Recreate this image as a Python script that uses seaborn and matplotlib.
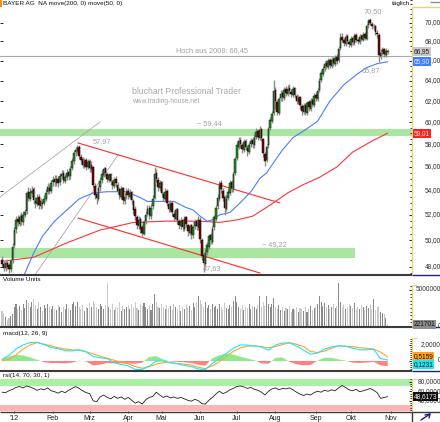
import matplotlib
matplotlib.use("Agg")
import matplotlib.pyplot as plt
import seaborn as sns
import numpy as np
from matplotlib.ticker import FixedLocator, NullFormatter
from matplotlib.lines import Line2D
from matplotlib.patches import Rectangle
from matplotlib.transforms import blended_transform_factory as btf

# ---------------- data ----------------
month_labels = ["'12", "Feb", "Mrz", "Apr", "Mai", "Jun", "Jul", "Aug", "Sep", "Okt", "Nov"]
month_start = [7, 29, 50, 72, 91, 113, 134, 156, 179, 199, 222]

opens = [
    48.5, 48.2, 47.9, 48.3, 48.1, 47.8, 48.5,
    49.6, 50.9, 51.7, 51.3, 51.9, 51.4, 52.0, 52.3, 53.9, 53.3, 53.8, 54.1, 53.1, 52.9, 53.5, 52.7, 53.0, 53.0, 53.3, 53.9, 54.2, 54.0,
    54.7, 55.0, 54.6, 55.0, 54.7, 55.2, 55.5, 54.8, 55.1, 55.6, 55.2, 55.9, 56.5, 57.3, 57.4, 57.8, 56.9, 56.7, 56.1, 56.6, 56.0,
    56.5, 55.8, 56.0, 54.4, 53.7, 53.3, 54.3, 54.9, 55.3, 55.9, 55.4, 54.9, 55.4, 54.7, 54.4, 55.0, 54.5, 54.1, 53.5, 54.2, 53.1, 53.6,
    54.0, 53.5, 53.9, 53.1, 52.5, 51.8, 51.1, 51.7, 51.0, 50.5, 51.5, 52.1, 52.6, 51.9, 52.7, 53.4, 55.5, 54.9, 54.2,
    54.7, 53.7, 53.3, 54.0, 52.9, 52.4, 53.0, 52.1, 51.7, 52.5, 51.5, 51.1, 51.6, 50.9, 51.8, 51.2, 50.6, 51.2, 50.4, 51.1, 51.5, 51.0,
    51.6, 50.0, 48.9, 48.2, 49.1, 49.5, 50.4, 49.9, 51.0, 51.7, 52.7, 53.3, 54.6, 54.0, 53.5, 52.5, 53.4, 53.8, 54.7, 54.1, 55.5,
    56.8, 57.8, 58.4, 57.9, 57.5, 58.3, 57.7, 57.3, 58.0, 58.4, 57.9, 58.7, 59.2, 58.6, 59.4, 58.5, 57.1, 56.6, 57.9, 59.5, 60.1, 60.9,
    63.1, 61.9, 60.9, 62.3, 62.8, 62.3, 63.2, 62.7, 63.3, 62.9, 62.6, 63.3, 62.5, 61.9, 62.4, 61.5, 61.0, 61.6, 60.9, 61.9, 61.3, 62.1, 61.6,
    62.6, 62.2, 63.1, 64.1, 64.7, 65.3, 65.8, 65.4, 66.1, 65.5, 66.2, 65.7, 66.4, 66.1, 67.3, 68.5, 68.1, 67.7, 68.6, 67.9,
    67.6, 68.4, 67.8, 68.7, 68.1, 67.9, 68.6, 68.2, 68.8, 68.3, 69.7, 70.3, 69.9, 69.5, 69.6, 68.9, 68.7, 66.5, 66.9, 67.2, 66.6, 67.0,
]
highs = [
    48.8, 48.4, 48.5, 48.6, 48.3, 48.6, 49.8,
    51.0, 51.9, 52.0, 52.1, 52.2, 52.3, 52.5, 54.0, 54.3, 54.2, 54.4, 54.3, 53.5, 53.7, 53.7, 53.4, 53.3, 53.6, 54.1, 54.6, 54.5, 54.9,
    55.2, 55.3, 55.3, 55.2, 55.5, 55.7, 55.7, 55.4, 55.8, 55.9, 56.1, 56.8, 57.5, 57.8, 57.97, 57.9, 57.1, 56.9, 56.8, 56.8, 56.7,
    56.7, 56.5, 56.1, 54.6, 53.9, 54.4, 55.1, 55.7, 56.0, 56.0, 55.6, 55.5, 55.5, 54.9, 55.1, 55.2, 54.7, 54.3, 54.4, 54.3, 53.8, 54.2,
    54.2, 54.1, 54.0, 53.3, 52.7, 52.0, 51.9, 51.8, 51.2, 51.6, 52.3, 52.8, 52.8, 52.9, 53.6, 56.0, 55.8, 55.1, 54.9,
    54.8, 53.9, 54.2, 54.1, 53.1, 53.2, 53.1, 52.3, 52.6, 52.6, 51.7, 51.8, 51.7, 51.9, 51.9, 51.3, 51.3, 51.3, 51.2, 51.7, 51.7, 51.9,
    51.8, 50.2, 49.1, 49.3, 49.9, 50.5, 50.6, 51.1, 52.0, 52.8, 53.7, 54.8, 54.9, 54.2, 53.6, 53.6, 54.2, 54.9, 54.9, 55.6, 56.9,
    58.3, 58.7, 58.7, 58.1, 58.5, 58.5, 57.9, 58.2, 58.6, 58.7, 58.9, 59.5, 59.4, 59.7, 59.5, 58.6, 57.3, 58.0, 59.6, 60.5, 61.1, 64.1,
    63.4, 62.1, 62.4, 63.1, 63.0, 63.4, 63.5, 63.6, 63.7, 63.2, 63.5, 63.4, 62.7, 62.6, 62.5, 61.7, 61.8, 61.7, 62.0, 62.1, 62.3, 62.3, 62.8,
    62.9, 63.3, 64.3, 65.1, 65.5, 66.0, 66.1, 66.3, 66.3, 66.4, 66.4, 66.6, 66.7, 67.5, 68.9, 68.9, 68.4, 68.8, 68.8, 68.2,
    68.6, 68.6, 68.9, 68.9, 68.4, 68.8, 68.8, 69.0, 69.0, 69.9, 70.4, 70.5, 70.1, 69.9, 69.8, 69.2, 68.9, 67.2, 67.4, 67.3, 67.3, 67.2,
]
lows = [
    48.0, 47.7, 47.7, 47.8, 47.5, 47.6, 48.3,
    49.4, 50.6, 51.1, 51.1, 51.2, 51.2, 51.8, 52.1, 53.1, 53.1, 53.5, 52.9, 52.6, 52.7, 52.5, 52.5, 52.6, 52.8, 53.1, 53.7, 53.7, 53.8,
    54.4, 54.4, 54.4, 54.3, 54.5, 55.0, 54.6, 54.6, 54.9, 54.9, 55.0, 55.7, 56.3, 57.0, 57.1, 56.7, 56.3, 55.9, 55.9, 55.7, 55.8,
    55.6, 55.6, 54.2, 53.3, 52.9, 53.1, 54.0, 54.6, 55.1, 55.2, 54.7, 54.7, 54.5, 54.1, 54.2, 54.3, 53.7, 53.3, 53.3, 52.9, 52.9, 53.3,
    53.3, 53.3, 52.9, 52.1, 51.6, 50.9, 50.9, 50.6, 50.3, 50.4, 51.3, 51.9, 51.7, 51.7, 52.5, 53.3, 54.7, 54.0, 54.0,
    53.5, 53.1, 53.1, 52.7, 52.2, 52.2, 51.9, 51.5, 51.5, 51.3, 50.9, 50.9, 50.7, 50.7, 51.0, 50.3, 50.4, 50.1, 50.2, 50.9, 50.8, 50.8,
    49.8, 48.5, 47.63, 48.0, 48.9, 49.3, 49.7, 49.7, 50.8, 51.5, 52.5, 53.1, 53.8, 53.1, 52.0, 52.3, 53.2, 53.6, 53.9, 53.9, 55.3,
    56.6, 57.6, 57.7, 57.2, 57.3, 57.5, 57.0, 57.1, 57.8, 57.7, 57.7, 58.5, 58.4, 58.4, 58.3, 56.9, 56.1, 56.4, 57.7, 59.3, 59.9, 60.7,
    61.3, 60.7, 60.7, 62.0, 62.0, 62.1, 62.5, 62.5, 62.7, 62.4, 62.4, 62.3, 61.7, 61.7, 61.3, 60.7, 60.8, 60.7, 60.7, 61.1, 61.1, 61.4, 61.4,
    62.0, 62.0, 62.9, 63.9, 64.5, 65.0, 65.2, 65.2, 65.3, 65.3, 65.5, 65.5, 65.7, 65.9, 67.1, 67.9, 67.5, 67.5, 67.7, 67.4,
    67.4, 67.6, 67.6, 67.9, 67.7, 67.7, 68.0, 68.0, 68.1, 68.1, 69.4, 69.7, 69.3, 69.2, 68.7, 68.4, 65.87, 66.2, 66.6, 66.4, 66.4, 66.7,
]
closes = [
    48.2, 47.9, 48.3, 48.0, 47.8, 48.4, 49.5,
    50.8, 51.6, 51.4, 51.8, 51.5, 52.0, 52.2, 53.8, 53.4, 53.9, 54.0, 53.2, 53.0, 53.4, 52.8, 53.1, 52.9, 53.3, 53.8, 54.3, 54.0, 54.6,
    54.9, 54.7, 55.0, 54.6, 55.2, 55.4, 54.9, 55.1, 55.5, 55.2, 55.8, 56.5, 57.2, 57.5, 57.7, 57.0, 56.6, 56.2, 56.5, 56.0, 56.4,
    55.9, 56.2, 54.5, 53.6, 53.4, 54.2, 54.8, 55.4, 55.8, 55.5, 55.0, 55.3, 54.8, 54.5, 54.9, 54.6, 54.0, 53.6, 54.1, 53.2, 53.5, 53.9,
    53.6, 53.8, 53.2, 52.4, 51.9, 51.2, 51.6, 50.9, 50.6, 51.4, 52.0, 52.5, 52.0, 52.6, 53.3, 55.4, 55.0, 54.3, 54.6,
    53.8, 53.4, 53.9, 53.0, 52.5, 52.9, 52.2, 51.8, 52.4, 51.6, 51.2, 51.5, 51.0, 51.7, 51.3, 50.7, 51.1, 50.5, 51.0, 51.4, 51.1, 51.6,
    50.1, 48.8, 48.3, 49.0, 49.6, 50.3, 50.0, 50.9, 51.8, 52.6, 53.4, 54.5, 54.1, 53.4, 52.6, 53.3, 53.9, 54.6, 54.2, 55.4, 56.7,
    57.9, 58.3, 58.0, 57.6, 58.2, 57.8, 57.4, 57.9, 58.3, 58.0, 58.6, 59.1, 58.7, 59.3, 58.6, 57.2, 56.5, 57.8, 59.4, 60.2, 60.8, 63.0,
    62.0, 61.0, 62.2, 62.7, 62.4, 63.1, 62.8, 63.2, 63.0, 62.7, 63.2, 62.6, 62.0, 62.3, 61.6, 61.1, 61.5, 61.0, 61.8, 61.4, 62.0, 61.7, 62.5,
    62.3, 63.0, 64.0, 64.8, 65.2, 65.7, 65.5, 66.0, 65.6, 66.1, 65.8, 66.3, 66.0, 67.2, 68.4, 68.2, 67.8, 68.5, 68.0, 67.7,
    68.3, 67.9, 68.6, 68.2, 68.0, 68.5, 68.3, 68.7, 68.4, 69.6, 70.2, 70.0, 69.6, 69.5, 69.0, 68.8, 66.6, 66.8, 67.1, 66.7, 67.0, 66.95,
]
volume_mio = [
    2.1, 1.8, 1.2, 0.9, 1.1, 1.4, 1.6,
    2.6, 3.1, 2.4, 2.8, 2.2, 3.0, 2.5, 3.6, 3.2, 2.7, 3.4, 3.8, 2.9, 2.4, 3.3, 2.6, 2.1, 2.9, 2.5, 3.1, 2.7, 2.3,
    2.8, 2.4, 2.2, 2.9, 2.6, 2.0, 2.7, 2.3, 3.1, 2.5, 2.2, 3.0, 3.4, 2.8, 3.3, 2.6, 2.4, 2.9, 2.1, 2.7, 2.5,
    3.2, 2.6, 3.5, 3.0, 2.7, 2.4, 3.1, 2.8, 2.3, 2.9, 6.0, 2.6, 2.4, 3.0, 2.2, 2.7, 2.5, 3.3, 2.1, 2.8, 2.4, 2.6,
    2.9, 2.3, 3.1, 2.7, 3.4, 2.5, 2.2, 3.0, 2.8, 3.2, 2.6, 2.4, 2.9, 2.2, 3.0, 4.5, 3.3, 2.7, 2.5,
    3.0, 2.6, 2.3, 2.9, 2.5, 2.8, 2.2, 3.1, 2.6, 2.4, 2.9, 2.1, 2.7, 2.3, 3.0, 2.5, 2.8, 2.2, 3.2, 2.6, 3.3, 4.2,
    3.6, 3.0, 2.7, 3.4, 2.5, 2.9, 2.3, 3.1, 2.6, 2.8, 2.4, 3.0, 2.7, 2.2, 3.2, 2.5, 2.3, 2.9, 2.6, 3.5, 4.2,
    3.3, 2.6, 2.4, 2.9, 2.2, 2.7, 2.5, 3.0, 2.3, 2.8, 2.6, 2.4, 2.9, 4.2, 2.7, 3.4, 2.8, 4.2, 3.1, 2.6, 3.0, 3.9,
    2.7, 2.4, 2.9, 2.2, 2.6, 2.1, 2.5, 2.3, 2.8, 2.0, 2.4, 2.2, 2.7, 1.9, 2.5, 2.3, 2.1, 2.6, 2.0, 2.4, 2.8, 2.2, 2.5,
    2.6, 3.0, 4.2, 3.4, 2.8, 3.2, 2.6, 2.9, 2.4, 2.7, 3.1, 2.5, 2.8, 6.0, 3.3, 2.7, 2.9, 2.4, 2.6, 3.0,
    2.8, 2.5, 3.2, 2.4, 2.7, 2.3, 2.9, 2.6, 2.2, 2.8, 2.5, 3.1, 2.4, 3.8, 2.2, 2.6, 2.8, 2.0, 1.8, 1.6, 1.1, 0.221701,
]

ma50_day = [11, 13, 18, 23, 30, 37, 44, 52, 60, 71, 79, 83, 90, 98, 105, 109, 113, 117, 120, 124,
            130, 136, 142, 147, 151, 155, 160, 166, 172, 180, 187, 195, 203, 208, 214, 220]
ma50_val = [46.9, 47.5, 49.0, 50.3, 51.5, 52.4, 53.3, 53.8, 53.9, 53.9, 53.4, 53.1, 53.1, 53.1, 52.6, 52.4, 51.9, 51.5, 51.6, 52.0,
            52.2, 53.0, 53.9, 55.0, 55.5, 56.4, 57.5, 58.6, 59.2, 60.1, 62.0, 63.6, 64.7, 65.3, 65.7, 65.90]
ma200_day = [0, 18, 37, 56, 75, 94, 113, 124, 134, 143, 153, 163, 172, 181, 191, 200, 210, 220]
ma200_val = [48.4, 48.7, 49.8, 50.8, 51.4, 51.5, 51.5, 51.4, 51.6, 51.9, 52.8, 53.8, 54.5, 55.1, 56.0, 57.3, 58.2, 59.01]

# trend lines (day, price)
gray_line1_day, gray_line1_val = [-1.14, 55.9], [53.46, 60.04]
gray_line2_day, gray_line2_val = [18.8, 66.2], [47.39, 57.05]
red_upper_day, red_upper_val = [43.4, 158.6], [58.12, 52.97]
red_lower_day, red_lower_val = [43.4, 147.2], [51.75, 47.53]
zone_upper = (58.75, 59.35)
zone_lower = (48.67, 49.37)
zone_lower_end_day = 201.4
high_2008 = 66.45

macd_day = list(range(0, 221, 4))
macd_val = [0.2, 0.7, 1.5, 2.0, 2.3, 2.35, 2.05, 1.7, 1.55, 1.3,
            1.25, 1.4, 1.15, 0.55, 0.4, 0.3, -0.2, -0.45, -0.6, -1.05,
            -1.05, -0.65, 0.0, 0.0, -0.2, -0.35, -0.55, -0.7, -1.0, -1.05,
            -0.3, 0.3, 0.95, 1.6, 2.0, 2.0, 1.85, 1.75, 1.35, 2.0,
            2.25, 2.25, 1.9, 1.35, 0.85, 1.0, 1.5, 1.75, 1.9, 1.85,
            1.6, 1.4, 1.4, 1.45, 0.3, 0.1231]
signal_val = [0.0, 0.25, 0.75, 1.5, 2.0, 2.3, 2.1, 1.9, 1.65, 1.5,
              1.4, 1.35, 1.15, 0.9, 0.6, 0.35, 0.1, -0.15, -0.35, -0.7,
              -0.9, -0.7, -0.4, -0.2, -0.2, -0.3, -0.4, -0.5, -0.8, -0.95,
              -0.6, -0.1, 0.6, 1.2, 1.65, 1.85, 1.9, 1.8, 1.65, 1.8,
              2.05, 2.3, 2.1, 1.8, 1.2, 1.05, 1.25, 1.6, 1.9, 1.85,
              1.8, 1.65, 1.6, 1.5, 1.1, 0.5159]
hist_val = [0.3, 0.55, 0.75, 0.7, 0.45, 0.15, -0.15, -0.25, -0.25, -0.3,
            -0.2, 0.05, -0.05, -0.55, -0.45, -0.25, -0.3, -0.3, -0.3, -0.35,
            -0.2, 0.5, 0.6, 0.2, -0.05, -0.1, -0.15, -0.25, -0.45, -0.6,
            0.35, 0.7, 0.95, 0.8, 0.55, 0.3, 0.1, -0.3, -0.35, 0.4,
            0.45, -0.1, -0.4, -0.55, -0.5, 0.05, 0.4, 0.4, 0.2, 0.05,
            -0.2, -0.25, -0.2, -0.1, -0.55, -0.65]

rsi_day = list(range(0, 221, 2))
rsi_val = [58, 57, 61, 64, 68, 70, 67, 71, 69, 66,
           62, 65, 63, 67, 61, 59, 56, 60, 57, 62,
           66, 70, 66, 61, 57, 55, 40, 38, 48, 52,
           47, 44, 49, 45, 48, 43, 47, 41, 35, 38,
           33, 42, 47, 49, 58, 52, 47, 50, 46, 48,
           45, 47, 44, 41, 39, 43, 40, 34, 33, 41,
           47, 54, 60, 55, 58, 63, 66, 70, 71, 69,
           66, 68, 64, 62, 58, 52, 60, 65, 67, 63,
           66, 65, 67, 63, 58, 54, 51, 54, 52, 57,
           60, 58, 62, 60, 63, 61, 67, 72, 68, 63,
           61, 64, 59, 61, 63, 66, 62, 57, 45, 47,
           48.6173]

price_ticks = [48, 50, 52, 54, 56, 58, 60, 62, 64, 66, 68, 70]

# ---------------- style ----------------
sns.set_theme(style="white")
plt.rcParams['font.family'] = ['Liberation Sans', 'DejaVu Sans']
plt.rcParams['axes.grid'] = False

W, H = 440, 422
fig = plt.figure(figsize=(W / 100, H / 100), dpi=100)
fig.patch.set_facecolor('white')


def frac(l, t, r, b):
    return [l / W, 1 - b / H, (r - l) / W, (b - t) / H]


ax_p = fig.add_axes(frac(0, 0, 412, 274))
ax_v = fig.add_axes(frac(0, 276, 412, 326))
ax_m = fig.add_axes(frac(0, 328, 412, 370))
ax_r = fig.add_axes(frac(0, 372, 412, 411))
XL = (-2 / 1.753, 410 / 1.753)

SPINE = '#e8d27c'
TICKC = '#303030'
for ax in (ax_p, ax_v, ax_m, ax_r):
    ax.set_facecolor('white')
    ax.set_xlim(*XL)
    for s in ('top', 'left', 'bottom'):
        ax.spines[s].set_visible(False)
    ax.spines['right'].set_color(SPINE)
    ax.spines['right'].set_linewidth(1.0)
    ax.yaxis.tick_right()
    ax.tick_params(axis='y', which='both', direction='in', color='black', width=0.6,
                   labelright=False, labelleft=False, left=False, right=True)
    ax.tick_params(axis='y', which='major', length=2.5)
    ax.tick_params(axis='y', which='minor', length=1.5)
    ax.set_xlabel('')
    ax.set_ylabel('')

days = np.arange(len(closes))
o = np.array(opens); c = np.array(closes); hi = np.array(highs); lo = np.array(lows)
up = c >= o

# ---------------- price panel ----------------
ax_p.set_yscale('log')
ax_p.set_ylim(47.46, 72.5)
GREENZ = '#a9e6a1'
ax_p.axhspan(*zone_upper, color=GREENZ, lw=0, zorder=0)
ax_p.fill_between([XL[0], zone_lower_end_day], zone_lower[0], zone_lower[1], color=GREENZ, lw=0, zorder=0)
ax_p.axhline(high_2008, color='#a8a8a8', lw=0.8, zorder=1)

ax_p.plot(gray_line1_day, gray_line1_val, color='#a9a9a9', lw=0.6, zorder=1)
ax_p.plot(gray_line2_day, gray_line2_val, color='#a9a9a9', lw=0.6, zorder=1)
ax_p.plot(red_upper_day, red_upper_val, color='#ff2a2a', lw=0.8, zorder=2)
ax_p.plot(red_lower_day, red_lower_val, color='#ff2a2a', lw=0.8, zorder=2)

sns.lineplot(x=ma200_day, y=ma200_val, ax=ax_p, color='#ff3434', lw=0.8, zorder=2, errorbar=None)
sns.lineplot(x=ma50_day, y=ma50_val, ax=ax_p, color='#4d7cff', lw=0.8, zorder=2, errorbar=None)

ax_p.vlines(days, lo, hi, color='#8e8e8e', lw=1.0, zorder=3)
body_lo = np.minimum(o, c)
body_h = np.maximum(np.abs(c - o), 0.06)
ax_p.bar(days[up], body_h[up], bottom=body_lo[up], width=0.85, color='#1e9a1e',
         edgecolor='#101010', linewidth=0.35, zorder=4)
ax_p.bar(days[~up], body_h[~up], bottom=body_lo[~up], width=0.85, color='#7a0000',
         edgecolor='#101010', linewidth=0.35, zorder=4)

ax_p.yaxis.set_major_locator(FixedLocator(price_ticks))
ax_p.yaxis.set_major_formatter(NullFormatter())
ax_p.yaxis.set_minor_locator(FixedLocator(np.arange(47.5, 72.6, 0.5)))
ax_p.yaxis.set_minor_formatter(NullFormatter())
ax_p.tick_params(axis='y', which='major', left=True)
ax_p.spines['right'].set_bounds(47.46, 71.75)
ax_p.set_xticks([])
ax_p.set_ylabel('')

ANN = '#a2a2a2'
ax_p.text(52, 58.24, '57,97', color=ANN, fontsize=5.3, ha='left', va='center')
ax_p.text(111.2, 59.85, '~ 59,44', color=ANN, fontsize=5.3, ha='left', va='center')
ax_p.text(140.3, 67.04, 'Hoch aus 2008: 66,45', color=ANN, fontsize=5.3, ha='right', va='center')
ax_p.text(74.2, 62.92, 'bluchart Professional Trader', color='#a8a8a8', fontsize=6.2, ha='left', va='center')
ax_p.text(74.2, 61.95, 'www.trading-house.net', color='#a8a8a8', fontsize=4.8, ha='left', va='center')
ax_p.text(148.3, 49.64, '~ 49,22', color=ANN, fontsize=5.3, ha='left', va='center')
ax_p.text(114.7, 47.83, '47,63', color=ANN, fontsize=5.3, ha='left', va='center')
ax_p.text(206.5, 71.2, '70,50', color=ANN, fontsize=5.3, ha='left', va='center')
ax_p.text(205.4, 65.05, '65,87', color=ANN, fontsize=5.3, ha='left', va='center')

# ---------------- volume panel ----------------
vol = np.array(volume_mio)
ax_v.bar(days, vol, width=0.6, color=np.where(up, '#8a8a8a', '#c9c9c9'), lw=0, zorder=2)
ax_v.set_ylim(0, 6.94)
ax_v.yaxis.set_major_locator(FixedLocator([0, 5]))
ax_v.yaxis.set_major_formatter(NullFormatter())
ax_v.yaxis.set_minor_locator(FixedLocator(np.arange(0, 5.8, 0.5)))
ax_v.yaxis.set_minor_formatter(NullFormatter())
ax_v.spines['right'].set_bounds(0, 5.7)
ax_v.set_xticks([])

# ---------------- macd panel ----------------
ax_m.set_ylim(-1.125, 4.125)
hv = np.array(hist_val)
ax_m.fill_between(macd_day, 0, hv, where=hv >= 0, interpolate=True, color='#8fe88a', lw=0, zorder=1)
ax_m.fill_between(macd_day, 0, hv, where=hv <= 0, interpolate=True, color='#ff8080', lw=0, zorder=1)
sns.lineplot(x=macd_day, y=signal_val, ax=ax_m, color='#ffa526', lw=0.8, zorder=3, errorbar=None)
sns.lineplot(x=macd_day, y=macd_val, ax=ax_m, color='#1ee6f5', lw=0.8, zorder=3, errorbar=None)
ax_m.yaxis.set_major_locator(FixedLocator([0, 2]))
ax_m.yaxis.set_major_formatter(NullFormatter())
ax_m.yaxis.set_minor_locator(FixedLocator(np.arange(-1, 2.9, 0.25)))
ax_m.yaxis.set_minor_formatter(NullFormatter())
ax_m.spines['right'].set_bounds(-1.125, 2.875)
ax_m.set_xticks([])
ax_m.set_ylabel('')

# ---------------- rsi panel ----------------
ax_r.set_ylim(18.4, 100.5)
ax_r.axhspan(70, 86, color='#a9f0a3', lw=0, zorder=0)
ax_r.axhspan(0, 30, color='#ffb3b3', lw=0, zorder=0)
sns.lineplot(x=rsi_day, y=rsi_val, ax=ax_r, color='#202020', lw=0.6, zorder=3, errorbar=None)
ax_r.yaxis.set_major_locator(FixedLocator([40, 60, 80]))
ax_r.yaxis.set_major_formatter(NullFormatter())
ax_r.yaxis.set_minor_locator(FixedLocator(np.arange(20, 86, 5)))
ax_r.yaxis.set_minor_formatter(NullFormatter())
ax_r.spines['right'].set_bounds(18.4, 85.8)
ax_r.set_ylabel('')
ax_r.set_xticks(month_start)
ax_r.set_xticklabels(month_labels)
ax_r.set_xlim(*XL)
ax_r.tick_params(axis='x', which='major', bottom=True, direction='out', length=1.5, width=0.6,
                 color='#303030', pad=1.2, labelsize=5.0, labelcolor='#202020')

# ---------------- right axis labels ----------------
def right_labels(ax, vals, texts):
    tr = btf(fig.transFigure, ax.transData)
    for v, t in zip(vals, texts):
        ax.text(441 / W, v, t, transform=tr, ha='right', va='center', fontsize=4.7,
                color=TICKC, clip_on=False)

right_labels(ax_p, price_ticks, [f"{v:.2f}".replace('.', ',') for v in price_ticks])
right_labels(ax_v, [0, 5], ['0', '5000000'])
right_labels(ax_m, [0, 2], ['0', '2,0000'])
right_labels(ax_r, [40, 60, 80], ['40,0000', '60,0000', '80,0000'])


def box(y_px, s, fc, tc, x_px=413.5):
    fig.text(x_px / W, 1 - y_px / H, s, ha='left', va='center', fontsize=4.7, color=tc,
             bbox=dict(boxstyle='square,pad=0.15', fc=fc, ec='none'))


box(51.5, f"{closes[-1]:.2f}".replace('.', ','), '#c8c8c8', '#202020')
box(61.8, f"{ma50_val[-1]:.2f}".replace('.', ','), '#3f7cff', '#e8f0ff')
box(133.3, f"{ma200_val[-1]:.2f}".replace('.', ','), '#ff1f1f', '#ffe8e8')
box(324.3, f"{int(round(volume_mio[-1] * 1e6))}", '#8c8c8c', '#101010')
box(356.5, f"{signal_val[-1]:.4f}".replace('.', ','), '#ffa31a', '#101010')
box(364.2, f"{macd_val[-1]:.4f}".replace('.', ','), '#1ee6f5', '#101010')
box(396.7, f"{rsi_val[-1]:.4f}".replace('.', ','), '#101010', '#f0f0f0')

# ---------------- titles / frame ----------------
fig.text(3 / W, 1 - 4 / H, 'BAYER AG  NA move(200, 0) move(50, 0)', fontsize=4.6, color='#101010',
         ha='left', va='center')
fig.text(392 / W, 1 - 4 / H, 'täglich', fontsize=4.6, color='#101010', ha='left', va='center')
fig.text(3 / W, 1 - 279.8 / H, 'Volume Units', fontsize=4.6, color='#101010', ha='left', va='center')
fig.text(3 / W, 1 - 334 / H, 'macd(12, 26, 9)', fontsize=4.6, color='#101010', ha='left', va='center')
fig.text(3 / W, 1 - 375 / H, 'rsi(14, 70, 30, 1)', fontsize=4.6, color='#101010', ha='left', va='center')


def hline(y_px, x0, x1, color, lw):
    fig.add_artist(Line2D([x0 / W, x1 / W], [1 - y_px / H] * 2, transform=fig.transFigure,
                          color=color, lw=lw, solid_capstyle='butt'))


for yy in (274.8, 326.8, 370.8):
    hline(yy, 0, 412, '#3a3a3a', 1.5)
    hline(yy, 412, 440, '#1a237e', 1.0)
hline(411.5, 0, 440, '#3a3a3a', 1.0)
hline(6.7, 412.5, 440, SPINE, 1.0)
for yy in (285, 338, 379):
    hline(yy, 412.5, 417, SPINE, 1.0)
hline(1.5, 430, 440, '#909090', 1.0)
fig.add_artist(Line2D([412 / W, 412 / W], [0, 1 - 411.5 / H], transform=fig.transFigure,
                      color='#3a3a3a', lw=1.0))
fig.add_artist(Rectangle((0, 1 - 7 / H), 1.8 / W, 7 / H, transform=fig.transFigure,
                         color='#ff8c00', lw=0))
fig.add_artist(Line2D([421 / W, 430 / W], [1 - 420 / H, 1 - 414 / H], transform=fig.transFigure,
                      color='#1a237e', lw=1.0))
fig.add_artist(Line2D([425 / W, 430 / W, 429 / W], [1 - 415 / H, 1 - 414 / H, 1 - 418 / H],
                      transform=fig.transFigure, color='#1a237e', lw=1.0))

fig.savefig('out.png', dpi=100)
